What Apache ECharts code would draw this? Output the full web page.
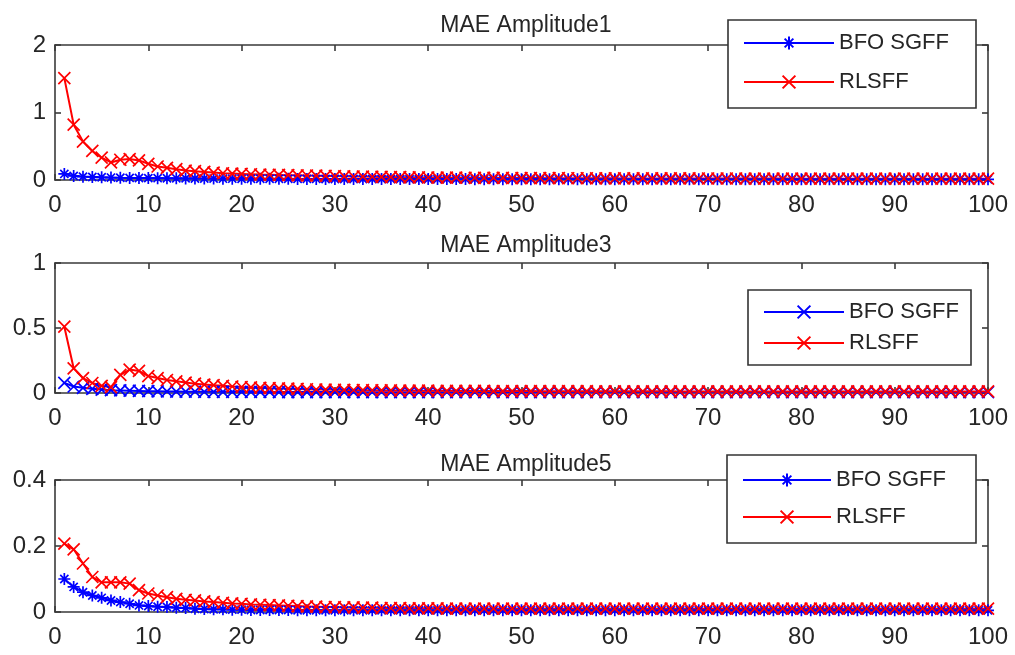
<!DOCTYPE html>
<html>
<head>
<meta charset="utf-8">
<script src="https://cdn.jsdelivr.net/npm/echarts@6/dist/echarts.min.js"></script>
<style>
html,body{margin:0;padding:0;background:#fff;}
#chart{width:1015px;height:655px;}
</style>
</head>
<body>
<div id="chart"></div>
<script>
// ---------- data ----------
const xValues = Array.from({length: 100}, (_, i) => i + 1);
const xTicks = [0, 10, 20, 30, 40, 50, 60, 70, 80, 90, 100];
const titles = ['MAE Amplitude1', 'MAE Amplitude3', 'MAE Amplitude5'];
const seriesNames = ['BFO SGFF', 'RLSFF'];
const p1YTicks = [0, 1, 2];
const p2YTicks = [0, 0.5, 1];
const p3YTicks = [0, 0.2, 0.4];

const p1Bfo = [0.09,0.06,0.05,0.045,0.04,0.036,0.033,0.031,0.03,0.028,
  0.027,0.026,0.025,0.024,0.023,0.022,0.021,0.02,0.02,0.019,
  0.019,0.018,0.018,0.017,0.017,0.016,0.016,0.016,0.015,0.015,
  0.015,0.015,0.014,0.014,0.014,0.014,0.014,0.013,0.013,0.013,
  0.013,0.013,0.013,0.013,0.012,0.012,0.012,0.012,0.012,0.012,
  0.012,0.012,0.012,0.012,0.012,0.012,0.011,0.011,0.011,0.011,
  0.011,0.011,0.011,0.011,0.011,0.011,0.011,0.011,0.011,0.011,
  0.011,0.011,0.011,0.011,0.011,0.011,0.01,0.01,0.01,0.01,
  0.01,0.01,0.01,0.01,0.01,0.01,0.01,0.01,0.01,0.01,
  0.01,0.01,0.01,0.01,0.01,0.01,0.01,0.01,0.01,0.01];
const p1Rls = [1.51,0.82,0.57,0.43,0.33,0.26,0.3,0.31,0.29,0.24,
  0.2,0.18,0.16,0.14,0.13,0.12,0.11,0.1,0.095,0.09,
  0.085,0.08,0.078,0.075,0.072,0.07,0.067,0.064,0.06,0.058,
  0.055,0.052,0.05,0.048,0.046,0.044,0.042,0.04,0.038,0.037,
  0.036,0.035,0.034,0.033,0.032,0.031,0.03,0.03,0.029,0.029,
  0.028,0.028,0.027,0.027,0.026,0.026,0.026,0.025,0.025,0.025,
  0.024,0.024,0.024,0.024,0.023,0.023,0.023,0.023,0.022,0.022,
  0.022,0.022,0.022,0.021,0.021,0.021,0.021,0.021,0.021,0.02,
  0.02,0.02,0.02,0.02,0.02,0.02,0.02,0.02,0.02,0.02,
  0.02,0.02,0.02,0.02,0.02,0.02,0.02,0.02,0.02,0.02];

const p2Bfo = [0.078,0.05,0.04,0.032,0.026,0.022,0.02,0.018,0.016,0.014,
  0.013,0.012,0.011,0.01,0.01,0.009,0.009,0.009,0.008,0.008,
  0.008,0.008,0.008,0.007,0.007,0.007,0.007,0.007,0.007,0.007,
  0.007,0.007,0.006,0.006,0.006,0.006,0.006,0.006,0.006,0.006,
  0.006,0.006,0.006,0.006,0.006,0.006,0.006,0.006,0.006,0.006,
  0.006,0.006,0.006,0.006,0.006,0.006,0.006,0.006,0.006,0.006,
  0.006,0.006,0.006,0.006,0.006,0.006,0.006,0.006,0.006,0.006,
  0.006,0.006,0.006,0.006,0.006,0.006,0.006,0.006,0.006,0.006,
  0.006,0.006,0.006,0.006,0.006,0.006,0.006,0.006,0.006,0.006,
  0.006,0.006,0.006,0.006,0.006,0.006,0.006,0.006,0.006,0.006];
const p2Rls = [0.51,0.19,0.115,0.077,0.055,0.045,0.14,0.18,0.17,0.13,
  0.115,0.1,0.09,0.08,0.072,0.065,0.06,0.055,0.05,0.046,
  0.043,0.04,0.037,0.035,0.033,0.031,0.029,0.027,0.026,0.025,
  0.024,0.023,0.022,0.021,0.02,0.02,0.019,0.019,0.018,0.018,
  0.017,0.017,0.017,0.016,0.016,0.016,0.015,0.015,0.015,0.015,
  0.015,0.014,0.014,0.014,0.014,0.014,0.014,0.013,0.013,0.013,
  0.013,0.013,0.013,0.013,0.013,0.013,0.012,0.012,0.012,0.012,
  0.012,0.012,0.012,0.012,0.012,0.012,0.012,0.012,0.012,0.012,
  0.012,0.012,0.012,0.012,0.012,0.012,0.012,0.012,0.012,0.012,
  0.012,0.012,0.012,0.012,0.012,0.012,0.012,0.012,0.012,0.012];

const p3Bfo = [0.1,0.076,0.06,0.05,0.043,0.035,0.03,0.025,0.02,0.018,
  0.016,0.015,0.013,0.012,0.01,0.009,0.008,0.008,0.007,0.007,
  0.006,0.006,0.006,0.006,0.006,0.005,0.005,0.005,0.005,0.005,
  0.005,0.005,0.005,0.005,0.005,0.005,0.005,0.005,0.005,0.005,
  0.005,0.005,0.005,0.005,0.005,0.005,0.005,0.005,0.005,0.005,
  0.005,0.005,0.005,0.005,0.005,0.005,0.005,0.005,0.005,0.005,
  0.005,0.005,0.005,0.005,0.005,0.005,0.005,0.005,0.005,0.005,
  0.005,0.005,0.005,0.005,0.005,0.005,0.005,0.005,0.005,0.005,
  0.005,0.005,0.005,0.005,0.005,0.005,0.005,0.005,0.005,0.005,
  0.005,0.005,0.005,0.005,0.005,0.005,0.005,0.005,0.005,0.005];
const p3Rls = [0.207,0.19,0.147,0.106,0.09,0.09,0.09,0.086,0.066,0.056,
  0.05,0.045,0.04,0.037,0.035,0.032,0.03,0.028,0.026,0.025,
  0.023,0.022,0.021,0.02,0.019,0.018,0.017,0.016,0.015,0.015,
  0.014,0.014,0.013,0.013,0.012,0.012,0.012,0.011,0.011,0.011,
  0.011,0.01,0.01,0.01,0.01,0.01,0.01,0.01,0.01,0.01,
  0.01,0.01,0.01,0.01,0.01,0.01,0.01,0.01,0.01,0.01,
  0.01,0.01,0.01,0.01,0.01,0.01,0.01,0.01,0.01,0.01,
  0.01,0.01,0.01,0.01,0.01,0.01,0.01,0.01,0.01,0.01,
  0.01,0.01,0.01,0.01,0.01,0.01,0.01,0.01,0.01,0.01,
  0.01,0.01,0.01,0.01,0.01,0.01,0.01,0.01,0.01,0.01];

// ---------- styling / layout ----------
const FONT = '"Liberation Sans", Arial, sans-serif';
const AXIS_COLOR = '#3a3a3a';
const TEXT_COLOR = '#262626';
const STAR = 'path://M5 0 L5 10 M0 5 L10 5 M1.6 1.6 L8.4 8.4 M1.6 8.4 L8.4 1.6';
const CROSS = 'path://M0 0 L10 10 M0 10 L10 0';

const panels = [
  {top: 45, height: 135, yTicks: p1YTicks, bfo: p1Bfo, rls: p1Rls, bfoSym: STAR, titleTop: 9,
   legend: {left: 728, top: 20, itemWidth: 90, padding: [10, 27, 13, 15], itemGap: 13}},
  {top: 263, height: 130, yTicks: p2YTicks, bfo: p2Bfo, rls: p2Rls, bfoSym: CROSS, titleTop: 229,
   legend: {left: 748, top: 290, itemWidth: 80, padding: [9, 12, 9, 15], itemGap: 5}},
  {top: 480, height: 132, yTicks: p3YTicks, bfo: p3Bfo, rls: p3Rls, bfoSym: STAR, titleTop: 448,
   legend: {left: 727, top: 455, itemWidth: 88, padding: [12, 30, 13, 15], itemGap: 11}}
];

const option = {
  animation: false,
  backgroundColor: '#fff',
  textStyle: {fontFamily: FONT},
  title: [], grid: [], xAxis: [], yAxis: [], series: [], legend: []
};

panels.forEach((p, k) => {
  const suffix = ' '.repeat(k);
  option.title.push({
    text: titles[k], left: 521, top: p.titleTop, textAlign: 'center',
    textStyle: {fontFamily: FONT, fontSize: 23, fontWeight: 'normal', color: TEXT_COLOR}
  });
  option.grid.push({left: 55, right: 27, top: p.top, height: p.height, containLabel: false});
  const xmin = xTicks[0], xmax = xTicks[xTicks.length - 1], xint = xTicks[1] - xTicks[0];
  const ymin = p.yTicks[0], ymax = p.yTicks[p.yTicks.length - 1], yint = p.yTicks[1] - p.yTicks[0];
  const lineStyle = {color: AXIS_COLOR, width: 1.6};
  const tickStyle = {inside: true, length: 6, lineStyle: {color: AXIS_COLOR, width: 1.6}};
  option.xAxis.push({
    type: 'value', gridIndex: k, min: xmin, max: xmax, interval: xint, position: 'bottom',
    axisLine: {show: true, lineStyle}, axisTick: tickStyle, splitLine: {show: false},
    axisLabel: {fontFamily: FONT, fontSize: 24, color: TEXT_COLOR, margin: 13}
  });
  option.xAxis.push({
    type: 'value', gridIndex: k, min: xmin, max: xmax, interval: xint, position: 'top',
    axisLine: {show: true, onZero: false, lineStyle}, axisTick: tickStyle, splitLine: {show: false},
    axisLabel: {show: false}
  });
  option.yAxis.push({
    type: 'value', gridIndex: k, min: ymin, max: ymax, interval: yint, position: 'left',
    axisLine: {show: true, onZero: false, lineStyle}, axisTick: tickStyle, splitLine: {show: false},
    axisLabel: {fontFamily: FONT, fontSize: 24, color: TEXT_COLOR, margin: 9}
  });
  option.yAxis.push({
    type: 'value', gridIndex: k, min: ymin, max: ymax, interval: yint, position: 'right',
    axisLine: {show: true, onZero: false, lineStyle}, axisTick: tickStyle, splitLine: {show: false},
    axisLabel: {show: false}
  });
  const bfoName = seriesNames[0] + suffix;
  const rlsName = seriesNames[1] + suffix;
  option.series.push({
    name: bfoName, type: 'line', xAxisIndex: 2 * k, yAxisIndex: 2 * k,
    data: xValues.map((x, i) => [x, p.bfo[i]]),
    symbol: p.bfoSym, symbolSize: 12, showAllSymbol: true,
    lineStyle: {color: '#0000ff', width: 2},
    itemStyle: {color: '#0000ff', borderColor: '#0000ff', borderWidth: 1.7},
    emphasis: {disabled: true}
  });
  option.series.push({
    name: rlsName, type: 'line', xAxisIndex: 2 * k, yAxisIndex: 2 * k,
    data: xValues.map((x, i) => [x, p.rls[i]]),
    symbol: CROSS, symbolSize: 12, showAllSymbol: true,
    lineStyle: {color: '#ff0000', width: 2},
    itemStyle: {color: '#ff0000', borderColor: '#ff0000', borderWidth: 1.7},
    emphasis: {disabled: true}
  });
  option.legend.push(Object.assign({
    orient: 'vertical', data: [bfoName, rlsName],
    itemHeight: 16, backgroundColor: '#fff', borderColor: '#333', borderWidth: 1.6,
    borderRadius: 0, z: 10,
    formatter: (n) => n.trim(),
    textStyle: {fontFamily: FONT, fontSize: 22, color: TEXT_COLOR, lineHeight: 26}
  }, p.legend));
});

const chart = echarts.init(document.getElementById('chart'), null, {renderer: 'canvas'});
chart.setOption(option);
</script>
</body>
</html>
